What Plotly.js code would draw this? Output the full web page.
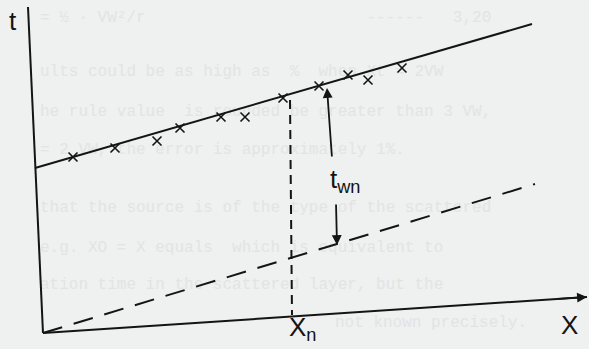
<!DOCTYPE html>
<html>
<head>
<meta charset="utf-8">
<script src="https://cdn.plot.ly/plotly-3.0.1.min.js"></script>
<style>
  html, body { margin: 0; padding: 0; background: #eff0f0; }
  #chart { width: 589px; height: 349px; }
</style>
</head>
<body>
<div id="chart"></div>
<script>
// Sketch units: horizontal position across the sheet, vertical position down the sheet.

// Axes (t upward, X to the right)
const tAxisX = [28, 43];
const tAxisY = [7, 333];
const xAxisX = [43, 587];
const xAxisY = [333, 297];

// Fitted straight line through the measured points
const fitX = [35, 532];
const fitY = [168, 24];

// Measured points
const obsX = [73, 115, 157, 180, 221, 245, 283, 319, 348, 368, 402];
const obsY = [157, 148, 141, 128, 117, 117, 98, 86, 75, 80, 68];

// Dashed line from the origin
const baseX = [43, 535];
const baseY = [333, 184];

// Dashed drop line at X_n
const xnX = [290, 292];
const xnY = [100, 315];

// t_wn dimension arrows: [tail, tip]
const twnUpX = [332, 327];
const twnUpY = [158, 88];
const twnDownX = [336, 337];
const twnDownY = [203, 245];

// Labels
const labelText = ['t', 't<sub>wn</sub>', 'X<sub>n</sub>', 'X'];
const labelX = [13, 345, 302, 569];
const labelY = [21, 180, 328, 325];

// Typed page text showing faintly behind the figure
const pageText = [
  '= \u00bd \u00b7 VW\u00b2/r                       ------   3,20',
  'ults could be as high as  %  when Xt = 2VW',
  'he rule value  is rounded be greater than 3 VW,',
  '= 2 VW, the error is approximately 1%.',
  'that the source is of the type of the scattered',
  'e.g. XO = X equals  which is equivalent to',
  'ation time in the scattered layer, but the',
  'not known precisely.'
];
const pageTextX = [40, 40, 40, 40, 40, 40, 40, 335];
const pageTextY = [18, 72, 112, 150, 208, 248, 285, 323];

const ink = '#141414';
const lineStyle = { color: ink, width: 2 };

const traces = [
  {
    x: pageTextX, y: pageTextY, text: pageText, mode: 'text',
    textposition: 'middle right',
    textfont: { family: 'Liberation Mono, monospace', size: 16, color: '#e2e4e4' },
    hoverinfo: 'skip'
  },
  { x: tAxisX, y: tAxisY, mode: 'lines', line: lineStyle, hoverinfo: 'skip' },
  { x: xAxisX, y: xAxisY, mode: 'lines', line: lineStyle, hoverinfo: 'skip' },
  { x: fitX, y: fitY, mode: 'lines', line: lineStyle, hoverinfo: 'skip' },
  { x: baseX, y: baseY, mode: 'lines', line: { color: ink, width: 2, dash: '20px,12px' }, hoverinfo: 'skip' },
  { x: xnX, y: xnY, mode: 'lines', line: { color: ink, width: 2, dash: '9px,6px' }, hoverinfo: 'skip' },
  {
    x: obsX, y: obsY, mode: 'markers',
    marker: { symbol: 'x-thin', size: 9, line: { color: ink, width: 1.6 } },
    hoverinfo: 'skip'
  }
];

const arrow = (x, y) => ({
  x: x[1], y: y[1], ax: x[0], ay: y[0],
  xref: 'x', yref: 'y', axref: 'x', ayref: 'y',
  text: '', showarrow: true,
  arrowhead: 2, arrowsize: 1.1, arrowwidth: 1.8, arrowcolor: ink
});

const annotations = [
  arrow(twnUpX, twnUpY),
  arrow(twnDownX, twnDownY),
  arrow([xAxisX[1] - 30, xAxisX[1]], [xAxisY[1] + 30 * (xAxisY[0] - xAxisY[1]) / (xAxisX[1] - xAxisX[0]), xAxisY[1]])
];
labelText.forEach((t, i) => {
  annotations.push({
    x: labelX[i], y: labelY[i], xref: 'x', yref: 'y',
    text: t, showarrow: false,
    font: { family: 'Liberation Sans, Arial, sans-serif', size: 26, color: ink }
  });
});

const layout = {
  width: 589, height: 349,
  margin: { l: 0, r: 0, t: 0, b: 0 },
  paper_bgcolor: '#eff0f0', plot_bgcolor: '#eff0f0',
  showlegend: false,
  xaxis: { range: [0, 589], visible: false, fixedrange: true },
  yaxis: { range: [349, 0], visible: false, fixedrange: true },
  annotations: annotations
};

Plotly.newPlot('chart', traces, layout, { staticPlot: true, displayModeBar: false });
</script>
</body>
</html>
